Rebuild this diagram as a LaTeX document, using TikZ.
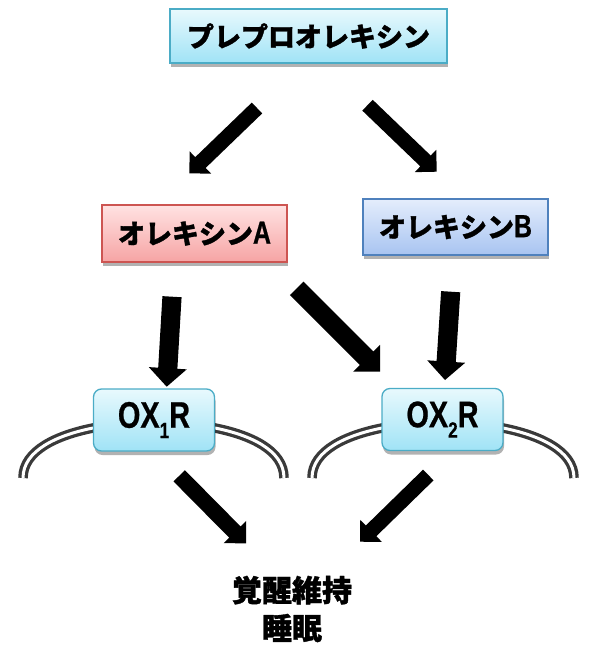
\documentclass[tikz,border=0pt]{standalone}
\usepackage{fontspec}
\usetikzlibrary{calc,shadows}
\newfontfamily\jp{Noto Sans CJK JP}[BoldFeatures={FakeBold=1.2}]
\newfontfamily\narrowsans{Liberation Sans}[FakeStretch=0.78, BoldFeatures={FakeBold=0.6}]
\definecolor{cyanTop}{RGB}{232,249,253}
\definecolor{cyanBot}{RGB}{160,227,246}
\definecolor{cyanLine}{RGB}{75,172,198}
\definecolor{pinkTop}{RGB}{255,226,226}
\definecolor{pinkBot}{RGB}{246,164,164}
\definecolor{pinkLine}{RGB}{205,85,82}
\definecolor{blueTop}{RGB}{228,237,252}
\definecolor{blueBot}{RGB}{168,196,241}
\definecolor{blueLine}{RGB}{79,129,189}
\definecolor{arcGray}{RGB}{58,58,58}
\newcommand{\blockarrow}[5]{%
  \coordinate (hb) at ($(#2)!#5!(#1)$);
  \fill ($(#1)!#3!90:(#2)$) -- ($(hb)!#3!-90:(#1)$) -- ($(hb)!#4!-90:(#1)$) -- (#2)
     -- ($(hb)!#4!90:(#1)$) -- ($(hb)!#3!90:(#1)$) -- ($(#1)!#3!-90:(#2)$) -- cycle;
}
\newcommand{\subnum}[1]{\raisebox{-0.28em}{\fontsize{22}{22}\selectfont #1}}
\newcommand{\latinAB}[1]{{\narrowsans\bfseries\fontsize{32}{32}\selectfont #1}}
\begin{document}
\begin{tikzpicture}[x=1pt,y=-1pt,
  box/.style={inner sep=0pt, line width=1.3pt, font=\jp\bfseries\fontsize{27}{30}\selectfont,
    drop shadow={shadow xshift=1pt, shadow yshift=-4pt, opacity=.3, fill=black}},
  cyanbox/.style={box, draw=cyanLine, top color=cyanTop, bottom color=cyanBot},
  pinkbox/.style={box, draw=pinkLine, top color=pinkTop, bottom color=pinkBot},
  bluebox/.style={box, draw=blueLine, top color=blueTop, bottom color=blueBot},
  recbox/.style={cyanbox, rounded corners=8pt, minimum width=121pt, minimum height=62pt,
    font=\narrowsans\bfseries\fontsize{37}{40}\selectfont},
  membrane/.style={draw=arcGray, line width=3.3pt, double=white, double distance=3pt}]
\useasboundingbox (0,0) rectangle (589,648);

% membranes
\draw[membrane] (100,428) -- (93,428) .. controls (58,435) and (23,450) .. (23,478);
\draw[membrane] (208,428) -- (215,428) .. controls (250,435) and (284,450) .. (284,478);
\draw[membrane] (390,428) -- (382,428) .. controls (347,435) and (312,450) .. (312,478);
\draw[membrane] (496,428) -- (503,428) .. controls (538,435) and (574,450) .. (574,478);

% nodes
\node[cyanbox, minimum width=277pt, minimum height=54pt] (pre) at (308.5,36) {プレプロオレキシン};
\node[pinkbox, minimum width=185pt, minimum height=57pt] (oxa) at (194.5,233.5) {オレキシン\latinAB{A}};
\node[bluebox, minimum width=185pt, minimum height=56pt] (oxb) at (455.5,227) {オレキシン\latinAB{B}};
\node[recbox] (r1) at (154,420) {OX\subnum{1}R};
\node[recbox] (r2) at (442.5,419.5) {OX\subnum{2}R};
\node[font=\jp\bfseries\fontsize{30}{38}\selectfont, align=center, inner sep=0pt] (wake) at (292,609) {覚醒維持\\睡眠};

% arrow end points
\coordinate (a1t) at (257,108);   \coordinate (a1h) at (189.3,173.3);
\coordinate (a2t) at (367.5,105.2); \coordinate (a2h) at (436.7,171.7);
\coordinate (a3t) at (172,296.7); \coordinate (a3h) at (166.7,386.7);
\coordinate (a4t) at (296.7,288.3); \coordinate (a4h) at (380,371.7);
\coordinate (a5t) at (450.7,291.7); \coordinate (a5h) at (445,380);
\coordinate (a6t) at (179.2,475.8); \coordinate (a6h) at (246,543.3);
\coordinate (a7t) at (428.3,475); \coordinate (a7h) at (360,541.7);

\blockarrow{a1t}{a1h}{7.5pt}{15.5pt}{15.5pt}
\blockarrow{a2t}{a2h}{7.5pt}{15.5pt}{15.5pt}
\blockarrow{a3t}{a3h}{9.6pt}{19pt}{18.5pt}
\blockarrow{a4t}{a4h}{9.5pt}{19pt}{19pt}
\blockarrow{a5t}{a5h}{9.6pt}{19pt}{18.5pt}
\blockarrow{a6t}{a6h}{8pt}{15.8pt}{15.8pt}
\blockarrow{a7t}{a7h}{7.5pt}{15.5pt}{15.5pt}
\end{tikzpicture}
\end{document}
